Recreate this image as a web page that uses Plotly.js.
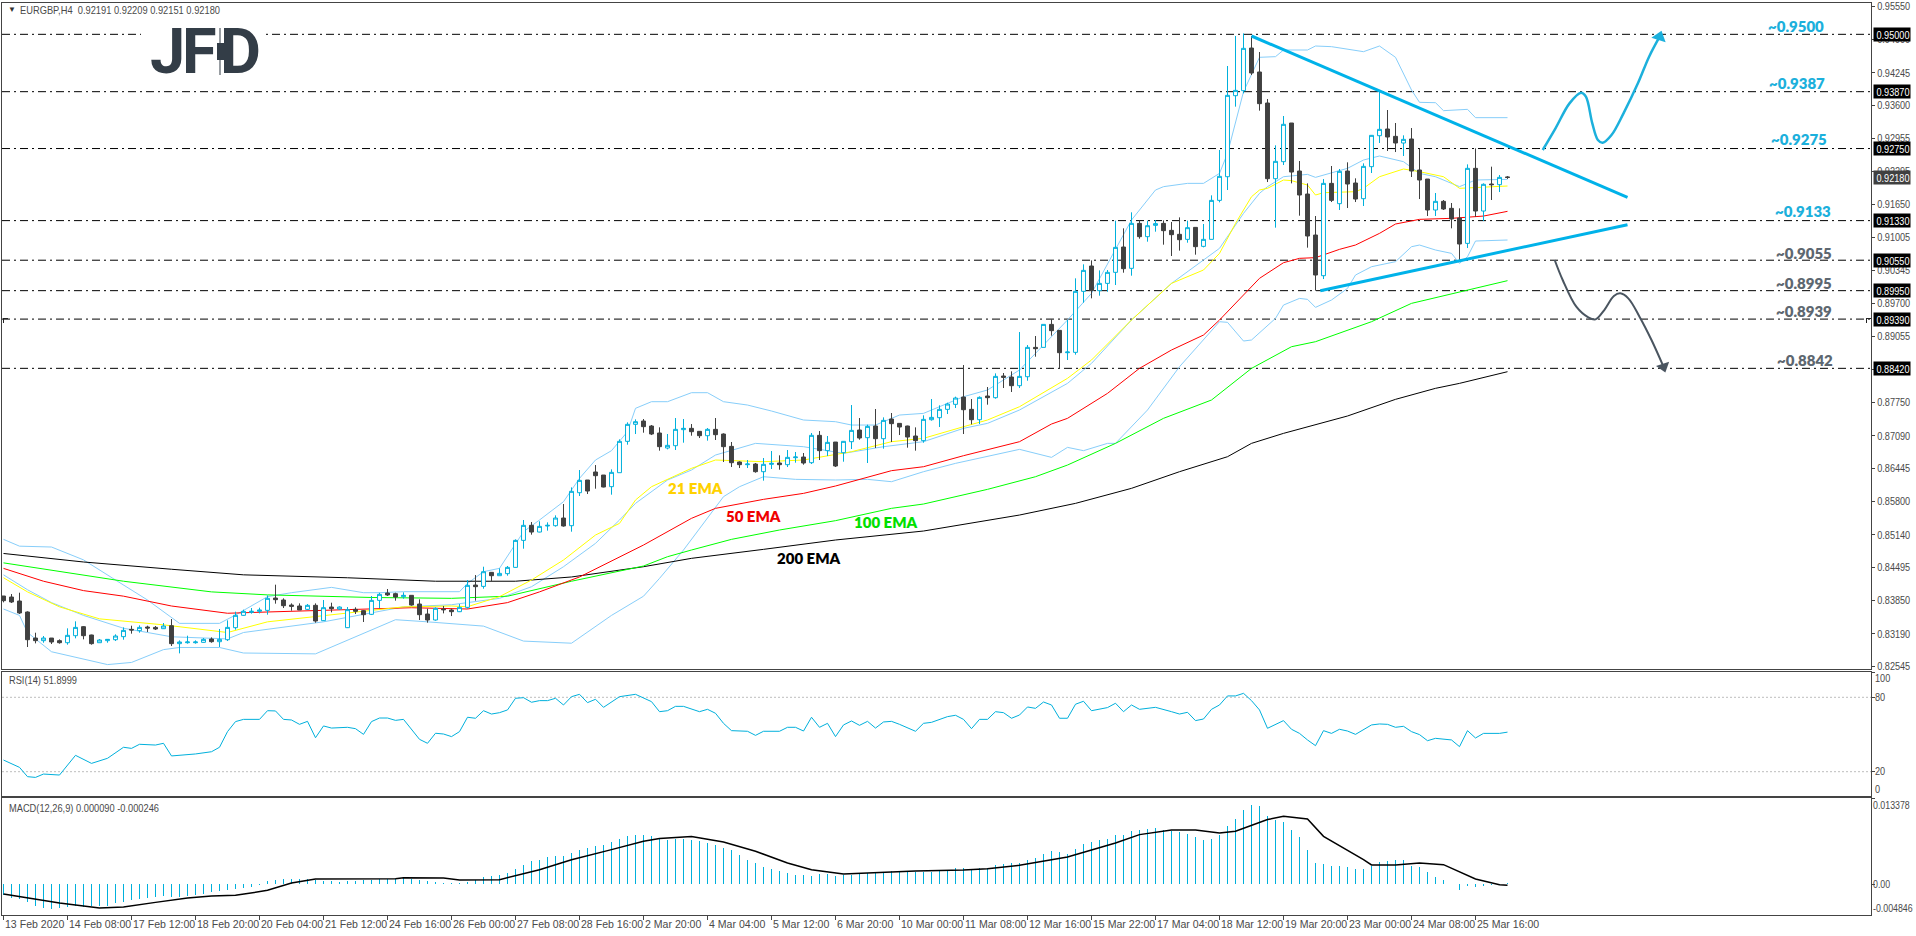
<!DOCTYPE html>
<html><head><meta charset="utf-8">
<script src="https://cdn.plot.ly/plotly-3.0.1.min.js"></script>
<style>html,body{margin:0;padding:0;background:#fff;overflow:hidden}#c{width:1916px;height:936px}</style>
</head><body><div id="c"></div>
<script>
// EURGBP H4 candles, one per bar (bar number = index)
const opens=[.83935,.83915,.83836,.8362,.83107,.83055,.83107,.83055,.83015,.83153,
.83331,.83167,.83015,.83055,.83074,.83134,.83278,.83252,.83324,.83317,
.83291,.8335,.82996,.83015,.83015,.83022,.83088,.83035,.83074,.83311,
.83554,.83613,.83633,.83652,.83895,.83856,.83757,.83738,.83672,.83751,
.83449,.83718,.83679,.83311,.83672,.83646,.83574,.83849,.83994,.83981,
.83921,.83948,.83777,.8358,.83462,.83678,.83659,.83626,.83711,.84151,
.84125,.84401,.84335,.84375,.84499,.85031,.85327,.85195,.85314,.8532,
.85471,.8532,.8597,.8622,.86378,.86318,.86089,.86364,.86982,.87317,
.87382,.87284,.87146,.8685,.86896,.87212,.87238,.87179,.87093,.87218,
.87126,.86883,.86575,.86522,.86535,.86384,.86529,.86555,.86522,.8666,
.86673,.86561,.871,.86798,.86968,.86758,.86975,.87205,.87054,.87284,
.87034,.87422,.87336,.87284,.87087,.86995,.87408,.87448,.87612,.87711,
.87855,.87612,.87408,.87875,.87842,.88269,.88249,.88078,.88255,.88833,
.88833,.89286,.89168,.88728,.88735,.89937,.90436,.8995,.90094,.90311,
.9081,.9039,.91276,.91014,.91237,.91276,.91138,.9106,.90961,.91197,
.90823,.90961,.91729,.92195,.93791,.9389,.9473,.94258,.93647,.92156,
.92491,.93253,.92307,.91854,.91046,.90245,.92064,.91664,.92307,.92071,
.91762,.92393,.93003,.93135,.9299,.92859,.92938,.92327,.92149,.91539,
.9171,.91572,.91381,.90882,.9236,.91519,.92051,.92038,.92191];
const highs=[.83935,.83974,.84,.83633,.83212,.83147,.83107,.83081,.83298,.83436,
.83344,.83173,.83088,.83088,.8318,.83317,.8335,.83357,.8335,.83344,
.83403,.83482,.83061,.83153,.83061,.83107,.8312,.83285,.83455,.83626,
.83666,.83698,.83705,.83948,.84158,.83889,.8379,.8379,.83777,.8379,
.83856,.83803,.83731,.83718,.83712,.83659,.83935,.84,.84073,.84,
.84007,.83948,.83869,.83685,.83711,.83738,.83685,.83777,.8425,.84348,
.84512,.84407,.8448,.84526,.85051,.85432,.85392,.85406,.85386,.85524,
.85747,.86075,.86417,.8622,.86515,.86318,.8643,.87021,.87356,.87415,
.87422,.87303,.87258,.87126,.87441,.87422,.87323,.87185,.87244,.87441,
.87139,.86969,.86588,.86614,.86555,.86653,.86791,.86706,.86811,.86772,
.86752,.87146,.87185,.87087,.86968,.86988,.87697,.87441,.8731,.87619,
.87454,.8754,.87336,.8729,.87257,.87494,.87816,.87691,.87743,.87862,
.88485,.87816,.87868,.88052,.88321,.88328,.88361,.89135,.88879,.89057,
.89286,.89385,.89175,.89372,.90193,.90469,.90547,.9035,.90357,.91329,
.91178,.91493,.91335,.91329,.91342,.91335,.91303,.91394,.91329,.91197,
.91263,.91828,.92721,.94376,.94967,.95019,.94967,.94652,.93726,.92813,
.93391,.93253,.92504,.92064,.91421,.92149,.92406,.92347,.92478,.92163,
.92458,.93016,.93877,.93509,.93253,.9301,.93154,.92754,.92149,.91874,
.91736,.91677,.91572,.92438,.92754,.92064,.92393,.92228,.92209];
const lows=[.8381,.83797,.8358,.8293,.83002,.83015,.82989,.82996,.82976,.83101,
.83081,.82976,.83015,.83015,.83048,.83074,.83193,.83212,.83226,.83265,
.83285,.8295,.82805,.82996,.82996,.83015,.83015,.8293,.83048,.83272,
.83547,.83587,.83593,.83567,.83784,.83698,.83646,.83659,.83659,.83409,
.83442,.83613,.83659,.83304,.8358,.83423,.8356,.83698,.83935,.83843,
.83882,.83744,.83462,.83409,.83449,.83593,.8354,.83619,.83685,.83843,
.84079,.8423,.84335,.84335,.84493,.84867,.85143,.85189,.85222,.85301,
.85301,.85202,.85905,.85944,.86049,.86075,.85931,.86364,.86916,.87126,
.87152,.87106,.86798,.86824,.86811,.86955,.87093,.87047,.86995,.87008,
.86575,.86476,.86456,.86456,.86364,.86207,.86437,.86423,.86476,.86561,
.86522,.86535,.86614,.86693,.86476,.86581,.86831,.87014,.86555,.8685,
.86837,.86968,.87106,.86857,.86798,.86955,.87389,.87264,.8752,.87638,
.87126,.87317,.87323,.87704,.87822,.88032,.87954,.88032,.88176,.88649,
.88833,.89063,.8842,.88584,.88689,.89713,.89799,.89851,.8993,.90061,
.90304,.90245,.90974,.90915,.91112,.90856,.90633,.90738,.90895,.90659,
.90803,.90961,.9169,.91933,.93575,.93837,.94198,.93496,.9209,.91191,
.92425,.92064,.91427,.90797,.8995,.90179,.91696,.91539,.91578,.91696,
.91618,.92268,.92859,.92701,.92681,.92603,.92189,.91755,.91421,.91421,
.91539,.91178,.90541,.9079,.91407,.91322,.91736,.91893,.92151];
const closes=[.83843,.83817,.836,.83074,.83055,.83107,.83029,.83015,.8316,.83317,
.83153,.82996,.83068,.83081,.83147,.83258,.83265,.83317,.83304,.83285,
.83344,.82996,.83029,.83029,.83029,.83081,.83035,.83081,.83317,.83554,
.83633,.83633,.83659,.83889,.83863,.83744,.83731,.83659,.83751,.83442,
.83705,.83685,.83718,.83666,.83633,.83567,.83849,.83968,.83955,.83915,
.83948,.83757,.83567,.83462,.83692,.83665,.83626,.83711,.84145,.84119,
.84414,.84335,.84381,.84499,.85031,.85327,.85195,.85307,.85327,.85471,
.85314,.85997,.86213,.86003,.86305,.86082,.86371,.86982,.87317,.87369,
.87271,.87126,.86877,.86903,.87218,.87238,.87172,.87093,.87218,.87113,
.86877,.86561,.86522,.86535,.86384,.86529,.86548,.86522,.86666,.86673,
.86555,.871,.86798,.86962,.86496,.86982,.87198,.87047,.87277,.87034,
.87395,.8733,.87264,.87067,.86995,.87415,.87454,.87612,.87717,.87835,
.87605,.87408,.87848,.87842,.88262,.88242,.88078,.88262,.88833,.88807,
.89286,.89162,.88728,.88741,.89937,.9035,.8995,.90094,.90311,.90803,
.90383,.91276,.91014,.9123,.9127,.91132,.91053,.90954,.91191,.90817,
.90961,.91729,.92202,.93798,.93896,.94724,.94238,.93634,.92156,.92498,
.93227,.92287,.91834,.91027,.90258,.92064,.91729,.92301,.92051,.91755,
.92399,.9301,.93128,.92977,.92859,.92931,.92307,.9213,.91539,.9171,
.91559,.91362,.90869,.9236,.91519,.92045,.92038,.92182,.9218];

// bands and moving averages, read at the bar numbers in the *Bars arrays
const bbUpperBars=[0,2,6,10,14,18,22,27,29,33,36,41,45,47,50,54,57,58,60,62,64,65,67,70,72,74,76,78,79,81,83,86,88,90,93,96,100,104,106,109,112,115,120,123,127,133,136,139,141,144,145,148,150,152,153,155,157,159,160,163,164,166,170,172,174,176,177,179,180,183,184,188];
const bbUpper=[.85051,.84917,.849,.84647,.8425,.83856,.83396,.83396,.8356,.83922,.84,.84105,.84,.84,.8402,.8402,.8402,.84184,.84414,.8448,.84972,.85202,.85432,.85793,.86253,.86614,.86798,.87172,.87632,.87763,.87763,.8794,.8794,.87763,.87697,.87579,.87402,.87369,.87303,.87303,.875,.87533,.87861,.87993,.88387,.89372,.89897,.90751,.91342,.91933,.91999,.92064,.92064,.92261,.92655,.9387,.94547,.9456,.94691,.94691,.9477,.94757,.94658,.9477,.94547,.93903,.9366,.93653,.93496,.93522,.93358,.93358];
const bbMidBars=[0,3,6,10,15,21,28,30,40,50,56,62,66,70,74,77,79,83,86,89,94,100,105,110,115,120,123,127,133,136,141,146,152,155,157,158,160,163,164,168,170,172,175,177,179,182,184,188];
const bbMid=[.84352,.84058,.83805,.83553,.833,.83132,.8309,.83216,.83426,.83721,.83763,.83889,.84118,.84512,.84972,.85432,.8576,.8622,.86417,.86712,.86942,.86876,.86745,.86876,.86975,.87238,.87336,.87599,.88124,.88518,.89372,.90094,.90784,.91473,.91867,.91999,.92195,.92241,.92182,.9236,.92524,.92603,.92491,.92261,.92195,.91999,.9213,.92143];
const bbLowerBars=[0,2,3,6,13,16,20,22,27,30,39,44,49,53,60,65,71,76,80,82,85,90,92,95,99,104,108,111,115,119,123,127,131,133,135,138,139,143,147,152,153,155,156,159,160,162,163,164,166,168,169,171,174,176,177,179,181,182,183,184,188];
const bbLower=[.83679,.83553,.83216,.82837,.82584,.82626,.82879,.82921,.82921,.82812,.82795,.83132,.83468,.83426,.83342,.83047,.83005,.83553,.83931,.84282,.84841,.85892,.86088,.86285,.86233,.8622,.86233,.86187,.86384,.86548,.86679,.86824,.86666,.86863,.86798,.86942,.86942,.87599,.88452,.89339,.89326,.88958,.88978,.89404,.89667,.89798,.89779,.89621,.89766,.89995,.90258,.90422,.90521,.90816,.90849,.90751,.90685,.90488,.90619,.90928,.90948];
const ema21Bars=[0,3,7,12,20,28,33,40,50,56,58,62,66,70,74,77,79,81,86,89,95,100,106,111,115,120,123,127,133,136,141,146,150,152,154,156,157,158,160,161,163,164,165,169,170,172,175,177,180,182,188];
const ema21=[.84294,.84016,.83721,.83485,.83367,.83216,.83426,.83553,.83721,.83738,.83724,.83922,.8425,.84644,.85136,.85366,.85826,.86088,.8645,.86614,.86581,.86614,.86778,.86975,.87041,.8727,.87402,.87664,.88223,.88584,.89372,.90094,.90357,.90685,.91276,.91801,.91933,.91966,.9213,.92117,.92031,.91834,.9188,.919,.91966,.92195,.92347,.92294,.92195,.91966,.92012];
const ema50Bars=[0,5,10,15,21,28,33,51,58,63,67,72,80,83,86,89,95,100,104,111,115,120,123,127,131,133,138,142,146,150,152,154,157,160,162,164,167,169,172,174,177,181,185,188];
const ema50=[.84479,.84226,.84041,.83932,.83738,.83595,.8362,.83704,.83679,.83805,.84016,.8431,.84939,.85202,.85465,.85662,.85839,.85957,.86102,.86404,.86482,.86699,.86811,.86975,.87323,.87435,.87927,.8842,.88781,.89076,.89372,.897,.90193,.90501,.90587,.906,.90764,.90849,.91079,.91263,.91355,.91375,.9142,.91513];
const ema100Bars=[0,10,15,26,33,46,56,63,71,80,83,86,91,97,104,111,115,123,129,133,139,145,151,156,161,164,171,176,182,188];
const ema100=[.84588,.84352,.84226,.84016,.83957,.83906,.83889,.83931,.84226,.84526,.84709,.84841,.85051,.85235,.85419,.85662,.85747,.86036,.86285,.86515,.86942,.87435,.87796,.88419,.88846,.88945,.89339,.897,.8993,.90147];
const ema200Bars=[0,10,21,30,43,54,64,71,80,86,95,104,115,121,127,134,141,147,153,156,160,168,174,179,182,188];
const ema200=[.84773,.84605,.84462,.84352,.84294,.84226,.84226,.8431,.84512,.84677,.84854,.85038,.85215,.85366,.8553,.8576,.86056,.86384,.86679,.86942,.87139,.87481,.87809,.88026,.88124,.88354];

// hand drawn levels, trend lines and scenario arrows
const levels=[.95,.9387,.9275,.9133,.9055,.8995,.8939,.8842];
const levelLabels=['~0.9500','~0.9387','~0.9275','~0.9133','~0.9055','~0.8995','~0.8939','~0.8842'];
const fallBars=[156,203], fallPrices=[.94967,.91789];
const riseBars=[164.6,203], risePrices=[.89949,.91249];
const upArrowBars=[192.4,194,195.75,197.2,197.8,198.6,199.3,199.9,201,202.5,204.3,205.7,207];
const upArrowPrices=[.92721,.93148,.9364,.9385,.93772,.93246,.92918,.92865,.93016,.93443,.94034,.9456,.9495];
const downArrowBars=[193.9,194.9,196.6,198.1,199,200.1,201.3,202.1,203.1,204.5,206,207.5];
const downArrowPrices=[.90554,.9016,.89634,.89424,.89385,.89569,.89844,.89897,.89798,.89437,.88978,.88452];

// RSI(14)
const rsiBars=[0,2,3,4,5,7,9,11,13,15,16,17,19,20,21,24,26,27,28,29,30,32,33,34,35,36,37,38,39,40,41,43,44,45,46,47,48,49,50,52,53,54,55,56,57,58,59,60,61,62,63,64,65,66,67,68,69,70,71,72,73,74,75,76,77,79,80,81,82,83,84,85,87,88,89,90,91,93,94,95,97,98,99,100,101,102,103,104,105,106,107,108,109,110,111,112,114,115,116,118,119,120,121,122,123,124,125,126,127,128,129,130,131,132,133,134,135,136,138,139,140,141,142,144,146,147,148,149,150,151,152,153,154,155,156,157,158,160,161,162,163,164,165,166,167,168,169,171,172,173,174,175,176,177,178,179,181,182,183,184,185,187,188];
const rsi=[29.4,23.5,16,15.4,18.1,17.3,33.2,26.7,30.8,39.7,38.8,42.1,41.5,42.9,32.7,34.3,36.1,39.7,52.3,60.4,62.2,62.2,69.2,69,62.2,61.7,58.2,60.6,47.4,56.9,55.2,55.8,54.7,50.1,60.4,63.3,63.3,61.4,62.2,46.1,42.9,51,50.4,48.3,52.3,63.9,63.1,69.2,66.5,67.6,69.8,79.2,79.7,76,77.3,77.3,79.2,73.8,80.5,82.4,75.7,78.4,71.9,76.5,80.5,82.4,79.7,76.5,68.4,69.2,72.7,72.7,68.4,70.3,67.1,59,53.1,52.6,49.3,52.6,52.6,55.8,55.8,52.8,63.9,55.8,59,48.3,57.7,60.9,57.4,60.6,55.2,60.1,60.6,58.2,52.6,59,59.8,64.4,65.5,62.2,54.7,62.2,62.2,68.4,67.6,63.1,65.7,72.2,71.1,76.2,73.8,63.1,63.1,74.4,76.8,69.2,71.7,75.2,68.4,73.8,70.3,71.9,68.4,66.5,67.9,61.2,62.5,70.3,73.8,81.1,81.1,83.2,77.3,69.8,55,61.2,54.2,50.9,45.6,41,53.1,50.9,54.2,52.8,50.1,57.7,58.5,58.2,55.8,56.6,52.3,49.9,45,46.9,45.6,40.2,53.1,47.2,50.9,50.9,51.9];

// MACD(12,26,9): histogram for every bar, signal read at signalBars
const macdHist=[-.00167,-.00219,-.00234,-.00287,-.00339,-.00375,-.00386,-.00375,-.00359,-.00349,
-.00359,-.00349,-.00339,-.00339,-.00297,-.00281,-.00255,-.00234,-.00219,-.00203,
-.00182,-.00198,-.00203,-.00182,-.00167,-.00156,-.0013,-.00115,-.00099,-.00078,
-.00063,-.00047,-.00016,.00042,.00068,.00078,.00083,.00083,.00078,.00068,
.00052,.00047,.00036,.00052,.00052,.00068,.00068,.00073,.00073,.00078,
.00109,.00073,.00057,.00042,.00031,.00016,.00016,.00021,.00036,.00068,
.00109,.0012,.00146,.00172,.00234,.00302,.00354,.0038,.00417,.00432,
.00432,.00485,.00537,.00563,.00589,.00615,.00651,.00703,.00745,.00771,
.00771,.00745,.00703,.00693,.00709,.00709,.00693,.00667,.00641,.00615,
.00563,.00526,.00458,.0038,.00328,.00266,.00234,.00208,.00172,.00146,
.00135,.0012,.00162,.00156,.0013,.00135,.00146,.00162,.00172,.00172,
.00182,.00198,.00193,.00188,.00182,.00188,.00193,.00208,.00224,.00245,
.00255,.00234,.00255,.0025,.00292,.00318,.00328,.00328,.0038,.00412,
.00474,.00511,.00495,.00474,.00552,.0063,.00656,.00693,.00709,.00771,
.00771,.00834,.00849,.00865,.0088,.00849,.00823,.00808,.00787,.00729,
.00693,.00703,.00761,.00912,.01021,.01162,.0123,.01214,.01068,.01006,
.00964,.00849,.00729,.00537,.00328,.00318,.00276,.00287,.00261,.00229,
.0024,.00287,.00344,.00365,.0038,.0038,.00276,.00266,.00182,.00115,
.00057,0,-.00089,-.00036,-.00047,-.00036,-.0001,-.00021,.00009];
const signalBars=[0,3,7,12,15,19,23,26,29,33,36,39,49,50,55,57,62,67,71,76,80,82,86,90,94,98,101,105,108,114,120,123,127,133,139,142,146,149,152,154,158,160,163,165,170,171,174,177,180,184,187,188];
const signal=[-.00156,-.00219,-.00297,-.00375,-.00359,-.00287,-.00219,-.00188,-.00177,-.00099,.00016,.00078,.00083,.00099,.00094,.00063,.00068,.00224,.0038,.00537,.00667,.00709,.0074,.00656,.00511,.00328,.00224,.00156,.00172,.00203,.00219,.0024,.00292,.00422,.00641,.00771,.00844,.00844,.00797,.00823,.01006,.01058,.01016,.00745,.0038,.00297,.00297,.00328,.00302,.00078,-.0001,-.00021];

// axis labels
const priceTicks=[.9555,.949,.94245,.936,.92955,.92295,.9165,.91005,.90345,.897,.89055,.88395,.8775,.8709,.86445,.858,.8514,.84495,.8385,.8319,.82545];
const rsiTicks=[100,80,20,0];
const macdTicks=[.013378,0,-.004846];
const macdTickText=['0.013378','0.00','-0.004846'];
const timeTickBars=[0,8,16,24,32,40,48,56,64,72,80,88,96,104,112,120,128,136,144,152,160,168,176,184];
const timeTickLabels=['13 Feb 2020','14 Feb 08:00','17 Feb 12:00','18 Feb 20:00','20 Feb 04:00','21 Feb 12:00','24 Feb 16:00','26 Feb 00:00','27 Feb 08:00','28 Feb 16:00','2 Mar 20:00','4 Mar 04:00','5 Mar 12:00','6 Mar 20:00','10 Mar 00:00','11 Mar 08:00','12 Mar 16:00','15 Mar 22:00','17 Mar 04:00','18 Mar 12:00','19 Mar 20:00','23 Mar 00:00','24 Mar 08:00','25 Mar 16:00'];
const headerText='EURGBP,H4\u00a0\u00a00.92191 0.92209 0.92151 0.92180';
const rsiText='RSI(14) 51.8999';
const macdText='MACD(12,26,9) 0.000090 -0.000246';

const W=1916,H=936,PX=x=>x/W,PY=y=>1-y/H;
const CY='#00b0dc',DK='#404040',BB='#87cefa',TXT='#4a4a4a';
const SMALL='"Liberation Sans",Arial,sans-serif';
const LAB='Lato,"Open Sans",sans-serif';
const xRange=[-0.1875,233.4375];
const bars=opens.map((_,i)=>i);
const ln=(x,y,color,width,extra)=>Object.assign({type:'scatter',mode:'lines',x,y,hoverinfo:'skip',showlegend:false,line:{color,width}},extra||{});

const data=[
 ln(bbUpperBars,bbUpper,BB,1),
 ln(bbMidBars,bbMid,BB,1),
 ln(bbLowerBars,bbLower,BB,1),
 ln(ema200Bars,ema200,'#000000',1),
 ln(ema100Bars,ema100,'#00ff00',1),
 ln(ema50Bars,ema50,'#ff0000',1),
 ln(ema21Bars,ema21,'#ffff00',1),
 {type:'candlestick',x:bars,open:opens,high:highs,low:lows,close:closes,xaxis:'x4',yaxis:'y4',width:.56,whiskerwidth:0,hoverinfo:'skip',showlegend:false,
  increasing:{line:{color:CY,width:1},fillcolor:'#ffffff'},
  decreasing:{line:{color:DK,width:1},fillcolor:DK}},
 ln(fallBars,fallPrices,'#00b2e9',3,{xaxis:'x4',yaxis:'y4'}),
 ln(riseBars,risePrices,'#00b2e9',3,{xaxis:'x4',yaxis:'y4'}),
 ln(upArrowBars,upArrowPrices,'#1cb0dc',2.5,{xaxis:'x4',yaxis:'y4',line:{color:'#1cb0dc',width:2.5,shape:'spline'}}),
 ln(downArrowBars,downArrowPrices,'#4a5560',2,{xaxis:'x4',yaxis:'y4',line:{color:'#4a5560',width:2,shape:'spline'}}),
 {type:'scatter',mode:'markers',x:[upArrowBars[upArrowBars.length-1]],y:[upArrowPrices[upArrowPrices.length-1]],xaxis:'x4',yaxis:'y4',hoverinfo:'skip',showlegend:false,marker:{symbol:'triangle-up',size:13,color:'#1cb0dc',angle:18}},
 {type:'scatter',mode:'markers',x:[downArrowBars[downArrowBars.length-1]],y:[downArrowPrices[downArrowPrices.length-1]],xaxis:'x4',yaxis:'y4',hoverinfo:'skip',showlegend:false,marker:{symbol:'triangle-down',size:12,color:'#4a5560',angle:-18}},
 ln(rsiBars,rsi,CY,1,{xaxis:'x2',yaxis:'y2'}),
 {type:'bar',x:bars,y:macdHist,xaxis:'x3',yaxis:'y3',width:.125,hoverinfo:'skip',showlegend:false,marker:{color:CY,line:{width:0}}},
 ln(signalBars,signal,'#000000',1.5,{xaxis:'x3',yaxis:'y3'})
];

const frame={showline:true,linecolor:'#444',linewidth:1,mirror:true,showgrid:false,zeroline:false,fixedrange:true};
const xDom=[PX(2),PX(1871)];
const yFont={family:SMALL,size:11,color:TXT};
const yExtra=Object.assign({},frame,{side:'right',ticks:'outside',ticklen:3,tickcolor:'#444',tickfont:yFont});
const layout={
 width:W,height:H,margin:{l:0,r:0,t:0,b:0},paper_bgcolor:'#fff',plot_bgcolor:'#fff',showlegend:false,bargap:0,hovermode:false,dragmode:false,
 xaxis:Object.assign({},frame,{domain:xDom,range:xRange,anchor:'y',showticklabels:false,ticks:''}),
 yaxis:Object.assign({},yExtra,{domain:[PY(669),PY(3)],range:[.82497,.95617],anchor:'x',tickmode:'array',tickvals:priceTicks,tickformat:'.5f'}),
 xaxis4:{overlaying:'x',matches:'x',range:xRange,visible:false,anchor:'y4',rangeslider:{visible:false},fixedrange:true},
 yaxis4:{overlaying:'y',matches:'y',range:[.82497,.95617],visible:false,anchor:'x4',fixedrange:true},
 xaxis2:Object.assign({},frame,{domain:xDom,range:xRange,anchor:'y2',showticklabels:false,ticks:''}),
 yaxis2:Object.assign({},yExtra,{domain:[PY(796),PY(672)],range:[.4,100.4],anchor:'x2',tickmode:'array',tickvals:rsiTicks,showticklabels:false}),
 xaxis3:Object.assign({},frame,{domain:xDom,range:xRange,anchor:'y3',showticklabels:false,ticks:'outside',ticklen:4,tickcolor:'#444',tickmode:'array',tickvals:timeTickBars}),
 yaxis3:Object.assign({},yExtra,{domain:[PY(915),PY(798)],range:[-.00484,.01343],anchor:'x3',tickmode:'array',tickvals:macdTicks,showticklabels:false}),
 shapes:[],annotations:[]
};
// dash-dot levels
levels.forEach(v=>layout.shapes.push({type:'line',layer:'below',xref:'paper',yref:'y',x0:PX(2),x1:PX(1871),y0:v,y1:v,line:{color:'#000',width:1,dash:'8px,4px,2px,4px'}}));
// RSI guides
[80,20].forEach(v=>layout.shapes.push({type:'line',layer:'below',xref:'paper',yref:'y2',x0:PX(2),x1:PX(1871),y0:v,y1:v,line:{color:'#bdbdbd',width:1,dash:'2px,2px'}}));
// logo clearing + candle mark
const logo='#333d47';
const pxRect=(x0,x1,y0,y1,color,layer)=>layout.shapes.push({type:'rect',layer,xref:'paper',yref:'paper',x0:PX(x0),x1:PX(x1),y0:PY(y1),y1:PY(y0),fillcolor:color,line:{width:0}});
pxRect(141,266,22,46,'#fff','below');
pxRect(219.5,220.5,28,75,logo,'above');
pxRect(217,224,43,60,logo,'above');
// little chart-shift marks on the 0.8939 level
pxRect(3,4,318,323,'#222','above');
pxRect(3,8,318,319,'#222','above');
pxRect(1866,1867,318,323,'#222','above');
pxRect(1866,1871,318,319,'#222','above');

const note=(text,x,y,opt)=>layout.annotations.push(Object.assign({text,x:PX(x),y:PY(y),xref:'paper',yref:'paper',showarrow:false,xanchor:'left',yanchor:'middle',font:{family:SMALL,size:11,color:TXT}},opt||{}));
// header captions
note('▼',6,10,{font:{family:SMALL,size:8,color:'#333'}});
note(headerText,18,10);
note(rsiText,7,680);
note(macdText,7,808);
// logo letters
[['J',167],['F',199],['D',240]].forEach(([t,x])=>note(t,x,51,{xanchor:'center',font:{family:'Roboto,sans-serif',size:63,color:logo,weight:700}}));
// indicator names
const capFont=(color)=>({family:LAB,size:15,color,weight:800});
note('21 EMA',695.5,488,{xanchor:'center',font:capFont('#ffd100')});
note('50 EMA',753.5,516,{xanchor:'center',font:capFont('#f00000')});
note('100 EMA',885.7,522,{xanchor:'center',font:capFont('#00e000')});
note('200 EMA',808.6,558,{xanchor:'center',font:capFont('#000')});
// level captions
const capX=[1795.5,1797.4,1799,1802.5,1804.4,1804.4,1804.4,1805.4],capY=[26,83,139,211,253,283,311,360];
levelLabels.forEach((t,i)=>note(t,capX[i],capY[i],{xanchor:'center',font:capFont(i<4?'#1cb0dc':'#5d6770')}));
// price tags
const tag=(v,bg)=>layout.annotations.push({text:v.toFixed(5),xref:'paper',yref:'y',x:PX(1873),y:v,showarrow:false,xanchor:'left',yanchor:'middle',width:36,height:13,bgcolor:bg,borderpad:0,font:{family:SMALL,size:11,color:'#fff'}});
levels.forEach(v=>tag(v,'#000'));
tag(closes[closes.length-1],'#404040');
// RSI / MACD scale labels, nudged inside their panes as on the terminal
const rsiLabelY=[678,697,771,789];
rsiTicks.forEach((v,i)=>note(String(v),1873,rsiLabelY[i]));
const macdLabelY=[805,884,908];
macdTickText.forEach((t,i)=>note(t,1871,macdLabelY[i],{font:{family:SMALL,size:10,color:TXT}}));
// time labels
timeTickBars.forEach((b,i)=>layout.annotations.push({text:timeTickLabels[i],xref:'x3',yref:'paper',x:b,y:PY(924),showarrow:false,xanchor:'left',yanchor:'middle',xshift:-1,font:{family:SMALL,size:11,color:TXT}}));

Plotly.newPlot('c',data,layout,{displayModeBar:false,staticPlot:true}).then(()=>{
 // the terminal's font is narrower than any installed one: squeeze the small labels to its widths
 const targets={[headerText]:200,[rsiText]:68,[macdText]:150};
 const tagTexts=new Set(levels.concat(closes[closes.length-1]).map(v=>v.toFixed(5)));
 document.querySelectorAll('.annotation-text').forEach(t=>{
  const s=t.textContent, L=t.getComputedTextLength(), bb=t.getBBox();
  let want=null, left=bb.x;
  if(targets[s]) want=targets[s];
  else if(timeTickLabels.includes(s)) want=L*.96;
  else if(tagTexts.has(s)){want=33; left=bb.x+(L-33)/2+1;}
  else if(macdTickText.includes(s)) want=L*.88;
  else if(/^-?\d+(\.\d+)?$/.test(s)) want=L*.83;
  if(want){t.style.textAnchor='start';t.setAttribute('x',left);t.setAttribute('textLength',want);t.setAttribute('lengthAdjust','spacingAndGlyphs');}
 });
 document.querySelectorAll('.ytick text').forEach(t=>{
  const L=t.getComputedTextLength();
  t.setAttribute('textLength',L*.83);t.setAttribute('lengthAdjust','spacingAndGlyphs');
 });
});
</script></body></html>
